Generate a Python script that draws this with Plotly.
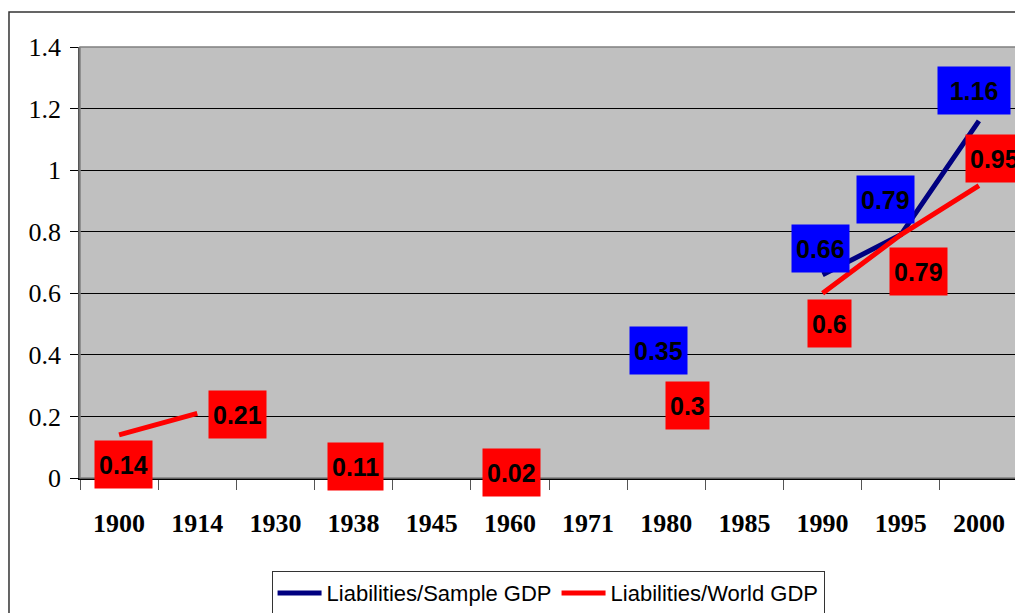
import plotly.graph_objects as go

YEARS = ["1900", "1914", "1930", "1938", "1945", "1960", "1971", "1980", "1985", "1990", "1995", "2000"]
SAMPLE_GDP = [None, None, None, None, None, None, None, 0.35, None, 0.66, 0.79, 1.16]
WORLD_GDP = [0.14, 0.21, None, 0.11, None, 0.02, None, 0.3, None, 0.6, 0.79, 0.95]
Y_TICKS = [0, 0.2, 0.4, 0.6, 0.8, 1.0, 1.2, 1.4]
Y_TICK_TEXT = ["0", "0.2", "0.4", "0.6", "0.8", "1", "1.2", "1.4"]

SAMPLE_COLOR = "#000080"
WORLD_COLOR = "#FF0000"
SAMPLE_BOX = "#0000FF"
WORLD_BOX = "#FF0000"

# label offsets in pixels (dx right, dy up), one per year
WORLD_SHIFT = [(4, -30), (40, -1), None, (2, -22), None, (2, -1), None, (21, -20), None, (7, -30), (18, -37), (16, 27)]
SAMPLE_SHIFT = [None] * 7 + [(-8, 20), None, (-2, 26), (-15, 35), (-5, 30)]

fig = go.Figure()
fig.add_trace(
    go.Scatter(
        x=YEARS,
        y=SAMPLE_GDP,
        mode="lines",
        name="Liabilities/Sample GDP",
        line=dict(color=SAMPLE_COLOR, width=5),
        connectgaps=False,
    )
)
fig.add_trace(
    go.Scatter(
        x=YEARS,
        y=WORLD_GDP,
        mode="lines",
        name="Liabilities/World GDP",
        line=dict(color=WORLD_COLOR, width=5),
        connectgaps=False,
    )
)


def add_labels(values, shifts, box_color):
    for i, (val, sh) in enumerate(zip(values, shifts)):
        if val is None:
            continue
        txt = f"{val:g}"
        fig.add_annotation(
            x=i,  # category index on the x axis
            y=val,
            xref="x",
            yref="y",
            text=txt,
            showarrow=False,
            xshift=sh[0],
            yshift=sh[1],
            bgcolor=box_color,
            borderpad=4,
            height=39,
            width=64 if txt == "1.16" else None,
            valign="middle",
            font=dict(family="Arial, Liberation Sans", size=25, color="black", weight="bold"),
        )


add_labels(WORLD_GDP, WORLD_SHIFT, WORLD_BOX)
add_labels(SAMPLE_GDP, SAMPLE_SHIFT, SAMPLE_BOX)

# plot area border (top / right in gray)
fig.add_shape(
    type="rect", xref="paper", yref="paper", x0=0, x1=1, y0=0, y1=1,
    line=dict(color="#808080", width=1.5), layer="above",
)
# outer chart frame (right and bottom edges fall outside the picture)
fig.add_shape(
    type="rect", xref="paper", yref="paper", x0=-0.0757, x1=1.05, y0=-0.45, y1=1.081,
    line=dict(color="#333333", width=1.5), layer="above",
)

# page body has an 8px margin, so the figure is 8px smaller than the window
fig.update_layout(
    width=1015,
    height=605,
    margin=dict(l=72, r=5, t=39, b=135, autoexpand=False),
    paper_bgcolor="white",
    plot_bgcolor="#C0C0C0",
    showlegend=True,
    legend=dict(
        orientation="h",
        x=0.499,
        xanchor="center",
        y=-0.216,
        yanchor="top",
        bgcolor="white",
        bordercolor="#333333",
        borderwidth=1,
        font=dict(family="Arial, Liberation Sans", size=22, color="black"),
        itemwidth=44,
        tracegroupgap=0,
    ),
    xaxis=dict(
        type="category",
        tickson="boundaries",
        ticks="outside",
        ticklen=10,
        tickcolor="#555555",
        showgrid=False,
        showline=True,
        linecolor="black",
        linewidth=1.5,
        ticklabelstandoff=21,
        tickfont=dict(family="Times New Roman, Liberation Serif", size=26, color="black", weight="bold"),
        range=[-0.5, 11.5],
        automargin=False,
    ),
    yaxis=dict(
        range=[0, 1.4],
        tickvals=Y_TICKS,
        ticktext=Y_TICK_TEXT,
        ticks="outside",
        ticklen=8,
        tickcolor="black",
        showgrid=True,
        gridcolor="black",
        gridwidth=1,
        showline=True,
        linecolor="#555555",
        linewidth=1.5,
        zeroline=False,
        ticklabelstandoff=4,
        tickfont=dict(family="Times New Roman, Liberation Serif", size=26, color="black"),
        automargin=False,
    ),
)

fig.write_html("out.html")
